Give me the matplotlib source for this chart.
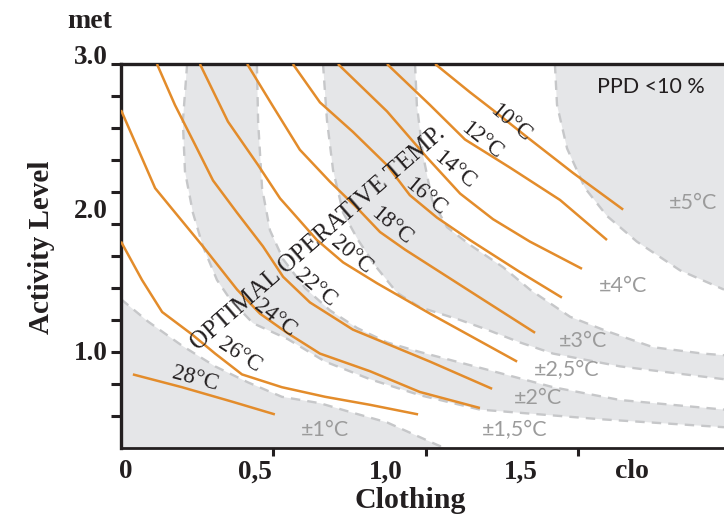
import numpy as np
import matplotlib
matplotlib.use("Agg")
import matplotlib.pyplot as plt

# ---- data (clo, met) ----
temps = ["28°C", "26°C", "24°C", "22°C", "20°C", "18°C", "16°C", "14°C", "12°C", "10°C"]

t28_clo = [0.039, 0.200, 0.364, 0.505]
t28_met = [0.86, 0.78, 0.69, 0.61]
t26_clo = [0.0, 0.069, 0.135, 0.233, 0.309, 0.397, 0.528, 0.670, 0.817, 0.975]
t26_met = [1.69, 1.45, 1.25, 1.11, 0.99, 0.86, 0.78, 0.72, 0.67, 0.61]
t24_clo = [0.0, 0.046, 0.112, 0.161, 0.269, 0.381, 0.456, 0.545, 0.653, 0.817, 0.981, 1.178]
t24_met = [2.64, 2.39, 2.03, 1.91, 1.66, 1.39, 1.24, 1.12, 0.99, 0.88, 0.75, 0.65]
t22_clo = [0.118, 0.177, 0.243, 0.302, 0.381, 0.466, 0.532, 0.620, 0.761, 1.014, 1.218]
t22_met = [3.0, 2.68, 2.37, 2.09, 1.87, 1.66, 1.47, 1.31, 1.14, 0.94, 0.77]
t20_clo = [0.259, 0.351, 0.450, 0.522, 0.564, 0.643, 0.729, 0.840, 1.014, 1.300]
t20_met = [3.0, 2.55, 2.21, 1.96, 1.87, 1.70, 1.56, 1.43, 1.24, 0.94]
t18_clo = [0.414, 0.496, 0.587, 0.686, 0.775, 0.850, 0.932, 1.014, 1.178, 1.359]
t18_met = [3.0, 2.68, 2.33, 2.08, 1.90, 1.75, 1.64, 1.54, 1.34, 1.12]
t16_clo = [0.564, 0.653, 0.761, 0.873, 0.948, 1.037, 1.145, 1.309, 1.447]
t16_met = [3.0, 2.70, 2.47, 2.21, 1.98, 1.84, 1.70, 1.50, 1.34]
t14_clo = [0.712, 0.873, 1.004, 1.113, 1.221, 1.342, 1.513]
t14_met = [3.0, 2.63, 2.27, 1.99, 1.83, 1.69, 1.52]
t12_clo = [0.873, 1.014, 1.129, 1.277, 1.441, 1.595]
t12_met = [3.0, 2.68, 2.41, 2.19, 1.95, 1.70]
t10_clo = [1.031, 1.145, 1.221, 1.332, 1.483, 1.648]
t10_met = [3.0, 2.78, 2.64, 2.43, 2.15, 1.89]

# label positions for the temperature lines
temp_lab_clo = [0.243, 0.390, 0.505, 0.637, 0.758, 0.889, 0.998, 1.096, 1.185, 1.277]
temp_lab_met = [0.83, 0.98, 1.21, 1.40, 1.61, 1.79, 1.97, 2.17, 2.40, 2.54]
temp_lab_rot = [-15, -33, -38, -40, -40, -40, -40, -40, -39, -40]

# tolerance band boundaries (dashed)
b1_clo = [0, 0.089, 0.200, 0.309, 0.417, 0.528, 0.653, 0.761, 0.873, 1.037, 1.063]
b1_met = [1.33, 1.19, 1.04, 0.91, 0.81, 0.72, 0.68, 0.62, 0.56, 0.42, 0.40]
b2_clo = [0.217, 0.203, 0.210, 0.236, 0.269, 0.315, 0.358, 0.433, 0.548, 0.670, 0.817, 0.981, 1.178, 1.572, 1.979]
b2_met = [3.0, 2.55, 2.16, 1.87, 1.66, 1.45, 1.33, 1.18, 1.08, 0.94, 0.83, 0.73, 0.64, 0.58, 0.53]
b3_clo = [0.446, 0.450, 0.463, 0.489, 0.532, 0.604, 0.686, 0.775, 0.873, 0.981, 1.201, 1.418, 1.638, 1.979]
b3_met = [3.0, 2.55, 2.03, 1.76, 1.58, 1.40, 1.26, 1.15, 1.06, 1.00, 0.89, 0.78, 0.70, 0.64]
b4_clo = [0.663, 0.676, 0.696, 0.729, 0.778, 0.834, 0.906, 0.981, 1.113, 1.201, 1.309, 1.418, 1.638, 1.979]
b4_met = [3.0, 2.56, 2.17, 1.87, 1.70, 1.54, 1.37, 1.28, 1.20, 1.14, 1.06, 0.99, 0.91, 0.83]
b5_clo = [0.965, 0.971, 0.991, 1.021, 1.070, 1.145, 1.254, 1.342, 1.474, 1.595, 1.746, 1.910, 1.979]
b5_met = [3.0, 2.68, 2.29, 1.95, 1.78, 1.67, 1.53, 1.39, 1.22, 1.13, 1.03, 0.99, 0.98]
b6_clo = [1.424, 1.431, 1.464, 1.523, 1.595, 1.693, 1.835, 1.979]
b6_met = [3.0, 2.68, 2.34, 2.03, 1.85, 1.69, 1.51, 1.39]

tol_labels = ["±1°C", "±1,5°C", "±2°C", "±2,5°C", "±3°C", "±4°C", "±5°C"]
tol_clo = [0.670, 1.293, 1.369, 1.464, 1.516, 1.648, 1.877]
tol_met = [0.51, 0.51, 0.71, 0.89, 1.07, 1.41, 1.93]

y_ticks_major = [1.0, 2.0, 3.0]
y_tick_labels = ["1.0", "2.0", "3.0"]
y_ticks_minor = [0.6, 0.8, 1.2, 1.4, 1.6, 1.8, 2.25, 2.5, 2.75]
x_ticks = [0.5, 1.0, 1.5]
x_tick_labels = ["0", "0,5", "1,0", "1,5"]
x_label_vals = [0.0, 0.5, 1.0, 1.5]

# ---- style ----
ORANGE = "#e38c2b"
GRAY_FILL = "#e5e6e8"
GRAY_DASH = "#c6c7c9"
GRAY_TEXT = "#9b9b9b"
INK = "#231f20"
SERIF = ["Liberation Serif", "DejaVu Serif"]
SANS = ["Lato", "DejaVu Sans"]

# the met axis is drawn with uneven spacing in the original
met_knots = [0.4, 1.0, 2.0, 3.0]
pos_knots = [0.0, 3.0, 8.0, 12.0]


def fwd(v):
    return np.interp(v, met_knots, pos_knots)


def inv(p):
    return np.interp(p, pos_knots, met_knots)


fig = plt.figure(figsize=(7.24, 5.18), dpi=100)
ax = fig.add_axes([121 / 724, 70 / 518, 603 / 724, 384 / 518])
ax.set_yscale("function", functions=(fwd, inv))
ax.set_xlim(0, 1.979)
ax.set_ylim(0.4, 3.0)

# gray tolerance regions
ax.fill(b1_clo + [0.0], b1_met + [0.4], color=GRAY_FILL, lw=0, zorder=1)
ax.fill(b2_clo + b3_clo[::-1], b2_met + b3_met[::-1], color=GRAY_FILL, lw=0, zorder=1)
ax.fill(b4_clo + b5_clo[::-1], b4_met + b5_met[::-1], color=GRAY_FILL, lw=0, zorder=1)
ax.fill(b6_clo + [1.979], b6_met + [3.0], color=GRAY_FILL, lw=0, zorder=1)

for bx, by in [(b1_clo, b1_met), (b2_clo, b2_met), (b3_clo, b3_met),
               (b4_clo, b4_met), (b5_clo, b5_met), (b6_clo, b6_met)]:
    ax.plot(bx, by, color=GRAY_DASH, lw=1.7, ls=(0, (4, 3)), zorder=2)

# temperature lines
lines = [(t28_clo, t28_met), (t26_clo, t26_met), (t24_clo, t24_met), (t22_clo, t22_met),
         (t20_clo, t20_met), (t18_clo, t18_met), (t16_clo, t16_met), (t14_clo, t14_met),
         (t12_clo, t12_met), (t10_clo, t10_met)]
for lx, ly in lines:
    ax.plot(lx, ly, color=ORANGE, lw=1.8, solid_capstyle="butt", solid_joinstyle="round", zorder=3)

for lab, cx, cy, rot in zip(temps, temp_lab_clo, temp_lab_met, temp_lab_rot):
    ax.text(cx, cy, lab, rotation=rot, rotation_mode="anchor", ha="center", va="center",
            family=SERIF, fontsize=16.5, color=INK, zorder=4)

ax.text(0.647, 1.71, "OPTIMAL OPERATIVE TEMP.", rotation=41, rotation_mode="anchor",
        ha="center", va="center", family=SERIF, fontsize=18, color=INK, zorder=4)

for lab, cx, cy in zip(tol_labels, tol_clo, tol_met):
    ax.text(cx, cy, lab, ha="center", va="center", family=SANS, fontsize=15.5,
            color=GRAY_TEXT, zorder=4)

ax.text(1.739, 2.82, "PPD <10 %", ha="center", va="center", family=SANS, fontsize=15.5,
        color=INK, zorder=4)

# axes frame
ax.spines["right"].set_visible(False)
for side in ["left", "top", "bottom"]:
    ax.spines[side].set_color(INK)
ax.spines["left"].set_linewidth(2.4)
ax.spines["top"].set_linewidth(2.4)
ax.spines["bottom"].set_linewidth(2.0)

ax.set_yticks(y_ticks_major + y_ticks_minor)
ax.set_yticklabels([])
ax.set_xticks(x_ticks)
ax.set_xticklabels([])
ax.tick_params(axis="y", length=7, width=2.2, color=INK, direction="out")
ax.tick_params(axis="x", length=6, width=2.2, color=INK, direction="out")
ax.minorticks_off()

# tick labels placed as in the original (offset from the tick marks)
y_offsets = [-2, -20, 6]
for val, lab, dy in zip(y_ticks_major, y_tick_labels, y_offsets):
    ax.annotate(lab, xy=(0, val), xycoords=("axes fraction", "data"),
                xytext=(-13, dy), textcoords="offset pixels", ha="right", va="center",
                family=SERIF, fontweight="bold", fontsize=19.5, color=INK)
ax.annotate("met", xy=(0, 3.0), xycoords=("axes fraction", "data"),
            xytext=(-31, 42), textcoords="offset pixels", ha="center", va="center",
            family=SERIF, fontweight="bold", fontsize=20, color=INK)

x_offsets = [5, -18, -40, -57]
for val, lab, dx in zip(x_label_vals, x_tick_labels, x_offsets):
    ax.annotate(lab, xy=(val, 0), xycoords=("data", "axes fraction"),
                xytext=(dx, -24), textcoords="offset pixels", ha="center", va="center",
                family=SERIF, fontweight="bold", fontsize=19.5, color=INK)
ax.annotate("clo", xy=(0.847, 0), xycoords="axes fraction",
            xytext=(0, -24), textcoords="offset pixels", ha="center", va="center",
            family=SERIF, fontweight="bold", fontsize=20, color=INK)

fig.text(410 / 724, 1 - 500 / 518, "Clothing", ha="center", va="center",
         family=SERIF, fontweight="bold", fontsize=21.5, color=INK)
fig.text(42 / 724, 1 - 247 / 518, "Activity Level", ha="center", va="center", rotation=90,
         family=SERIF, fontweight="bold", fontsize=21, color=INK)

fig.savefig("out.png", dpi=100)
